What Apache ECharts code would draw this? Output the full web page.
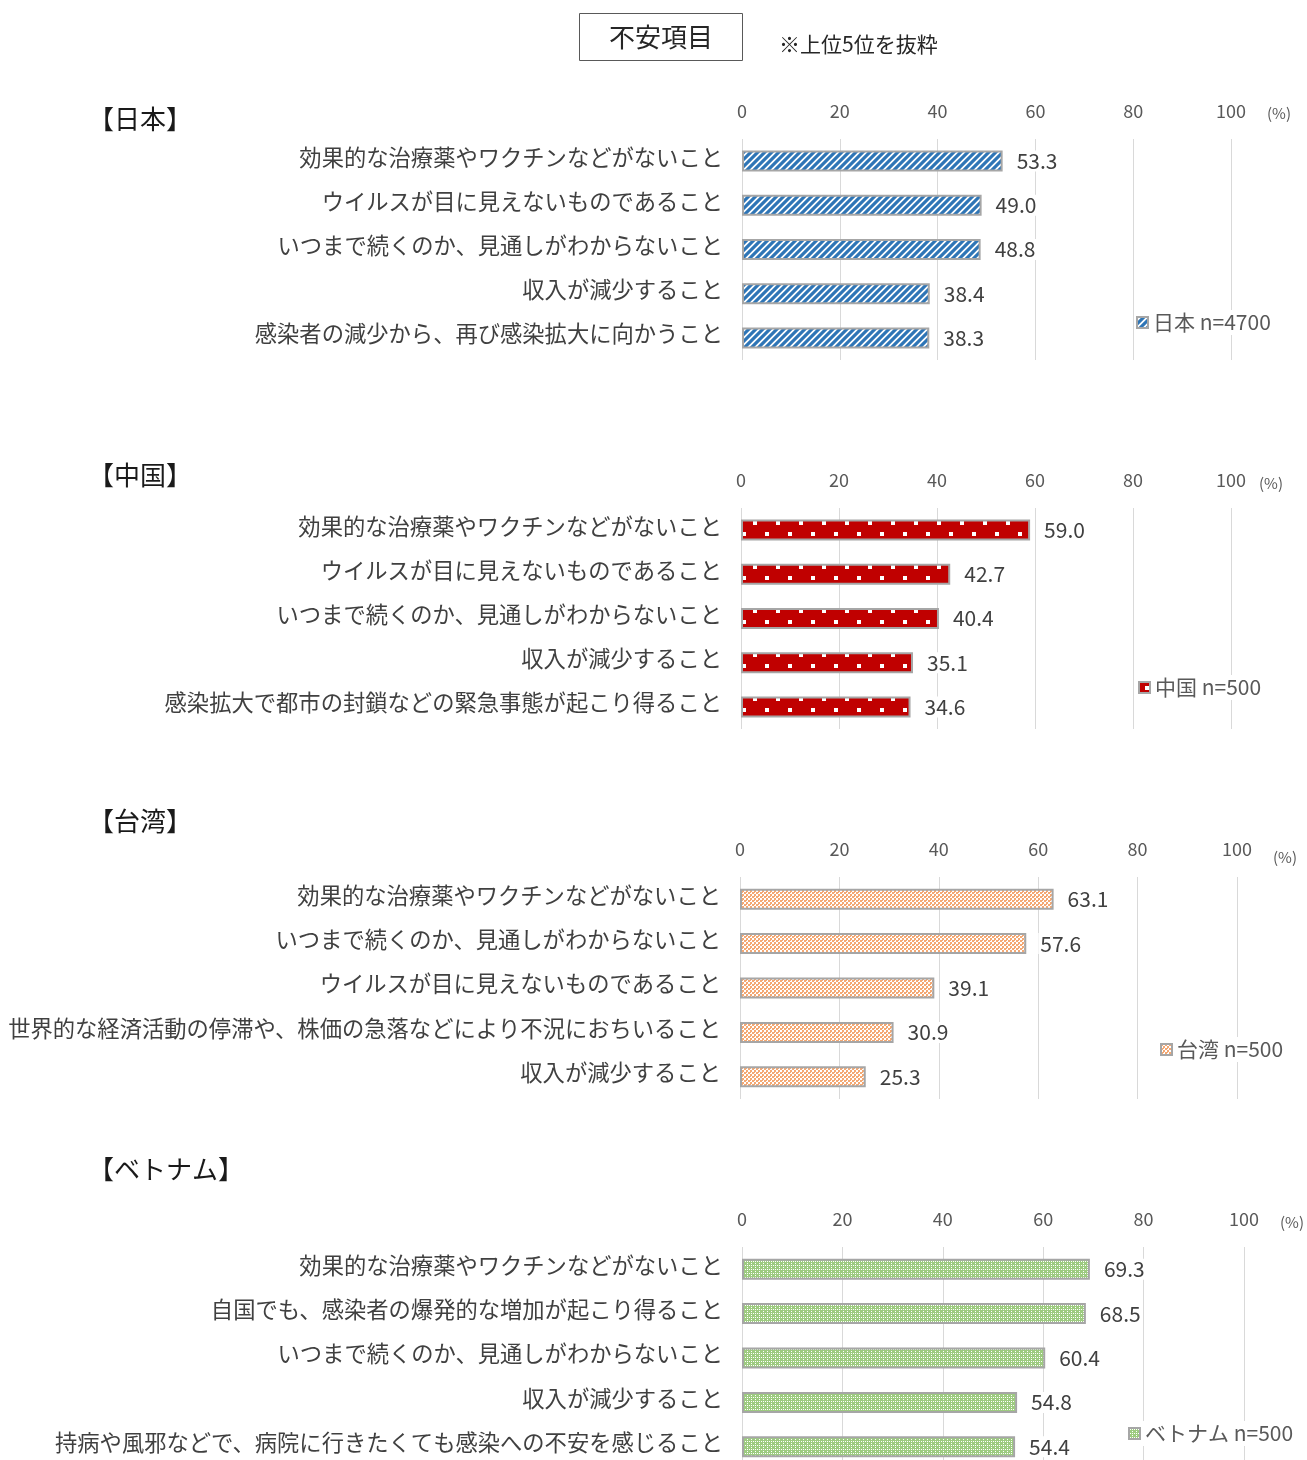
<!DOCTYPE html>
<html>
<head>
<meta charset="utf-8">
<script src="https://cdn.jsdelivr.net/npm/echarts@6/dist/echarts.min.js"></script>
<style>
  html, body { margin: 0; padding: 0; background: #fff; overflow: hidden; }
  /* the last panel runs slightly past the bottom of the window */
  #chart { width: 1307px; height: 1472px; }
</style>
</head>
<body>
<div id="chart"></div>
<script>
// Survey answers: share of respondents (%) worried about each item, top 5 per country
const regionTitles = ['【日本】', '【中国】', '【台湾】', '【ベトナム】'];
const seriesNames = ['日本 n=4700', '中国 n=500', '台湾 n=500', 'ベトナム n=500'];

const categoriesJapan = [
  '効果的な治療薬やワクチンなどがないこと',
  'ウイルスが目に見えないものであること',
  'いつまで続くのか、見通しがわからないこと',
  '収入が減少すること',
  '感染者の減少から、再び感染拡大に向かうこと'
];
const valuesJapan = [53.3, 49.0, 48.8, 38.4, 38.3];

const categoriesChina = [
  '効果的な治療薬やワクチンなどがないこと',
  'ウイルスが目に見えないものであること',
  'いつまで続くのか、見通しがわからないこと',
  '収入が減少すること',
  '感染拡大で都市の封鎖などの緊急事態が起こり得ること'
];
const valuesChina = [59.0, 42.7, 40.4, 35.1, 34.6];

const categoriesTaiwan = [
  '効果的な治療薬やワクチンなどがないこと',
  'いつまで続くのか、見通しがわからないこと',
  'ウイルスが目に見えないものであること',
  '世界的な経済活動の停滞や、株価の急落などにより不況におちいること',
  '収入が減少すること'
];
const valuesTaiwan = [63.1, 57.6, 39.1, 30.9, 25.3];

const categoriesVietnam = [
  '効果的な治療薬やワクチンなどがないこと',
  '自国でも、感染者の爆発的な増加が起こり得ること',
  'いつまで続くのか、見通しがわからないこと',
  '収入が減少すること',
  '持病や風邪などで、病院に行きたくても感染への不安を感じること'
];
const valuesVietnam = [69.3, 68.5, 60.4, 54.8, 54.4];

const allCategories = [categoriesJapan, categoriesChina, categoriesTaiwan, categoriesVietnam];
const allValues = [valuesJapan, valuesChina, valuesTaiwan, valuesVietnam];

// ---- fill patterns ----
function makeTile(w, h, draw) {
  const c = document.createElement('canvas');
  c.width = w; c.height = h;
  draw(c.getContext('2d'));
  return c;
}
const stripeTile = makeTile(7, 7, function (g) {
  g.fillStyle = '#fff'; g.fillRect(0, 0, 7, 7);
  g.strokeStyle = '#2E75B6'; g.lineWidth = 3.2;
  g.beginPath();
  g.moveTo(-1, 8); g.lineTo(8, -1);
  g.moveTo(-4.5, 4.5); g.lineTo(4.5, -4.5);
  g.moveTo(2.5, 11.5); g.lineTo(11.5, 2.5);
  g.stroke();
});
const dotTile = makeTile(23, 22, function (g) {
  g.fillStyle = '#C00000'; g.fillRect(0, 0, 23, 22);
  g.fillStyle = '#fff';
  g.fillRect(17, 15, 4, 4);
  g.fillRect(6, 4, 4, 4);
});
const checkOrangeTile = makeTile(4, 4, function (g) {
  g.fillStyle = '#fff'; g.fillRect(0, 0, 4, 4);
  g.fillStyle = '#F4A873';
  g.fillRect(0, 0, 2, 2);
  g.fillRect(2, 2, 2, 2);
  g.fillRect(2, 0, 1, 1);
});
const checkGreenTile = makeTile(4, 4, function (g) {
  g.fillStyle = '#9DCB80'; g.fillRect(0, 0, 4, 4);
  g.fillStyle = '#fff';
  g.fillRect(1, 1, 1, 1);
  g.fillRect(3, 3, 1, 1);
  g.fillRect(3, 1, 1, 1);
});
const fills = [stripeTile, dotTile, checkOrangeTile, checkGreenTile].map(function (t) {
  return { image: t, repeat: 'repeat' };
});

// ---- panel geometry ----
const panels = [
  { left: 742, width: 489, top: 139, height: 221, titleY: 119, pctX: 1279, pctY: 113, legendLeft: 1134, legendTop: 310 },
  { left: 741, width: 490, top: 508, height: 221, titleY: 475, pctX: 1271, pctY: 483, legendLeft: 1136, legendTop: 675 },
  { left: 740, width: 497, top: 877, height: 222, titleY: 821, pctX: 1285, pctY: 857, legendLeft: 1158, legendTop: 1037 },
  { left: 742, width: 502, top: 1247, height: 222, titleY: 1169, pctX: 1292, pctY: 1222, legendLeft: 1126, legendTop: 1421 }
];

const FONT = '"Noto Sans CJK JP", "Noto Sans", sans-serif';

const grids = [], xAxes = [], yAxes = [], series = [], legends = [], graphics = [];

panels.forEach(function (p, i) {
  grids.push({ left: p.left, top: p.top, width: p.width, height: p.height, containLabel: false });
  xAxes.push({
    type: 'value', gridIndex: i, position: 'top', min: 0, max: 100, interval: 20,
    axisLine: { show: false }, axisTick: { show: false },
    splitLine: { show: true, lineStyle: { color: '#D9D9D9', width: 1 } },
    axisLabel: { color: '#595959', fontSize: 18, fontFamily: FONT, margin: 19 }
  });
  yAxes.push({
    type: 'category', gridIndex: i, inverse: true, data: allCategories[i],
    axisLine: { show: false }, axisTick: { show: false }, splitLine: { show: false },
    axisLabel: {
      color: '#404040', fontSize: 22.3, fontFamily: FONT, margin: 19,
      // sit the text slightly above the bar centre
      verticalAlign: 'bottom', lineHeight: 8
    }
  });
  series.push({
    name: seriesNames[i], type: 'bar', xAxisIndex: i, yAxisIndex: i,
    data: allValues[i], barWidth: 21,
    itemStyle: { color: fills[i], borderColor: '#A6A6A6', borderWidth: 2 },
    label: {
      show: true, position: 'right', distance: 12,
      formatter: function (d) { return d.value.toFixed(1); },
      color: '#404040', fontSize: 21, fontFamily: FONT,
      backgroundColor: '#fff', padding: [0, 2]
    }
  });
  legends.push({
    data: [seriesNames[i]], left: p.legendLeft, top: p.legendTop,
    orient: 'vertical', icon: 'rect', itemWidth: 11, itemHeight: 11, itemGap: 6,
    backgroundColor: '#fff', padding: [2, 2],
    textStyle: { color: '#595959', fontSize: 21, fontFamily: FONT },
    selectedMode: false
  });
  graphics.push({
    type: 'text', x: 88, y: p.titleY,
    style: { text: regionTitles[i], fill: '#1a1a1a', fontSize: 26, fontFamily: FONT, textAlign: 'left', textVerticalAlign: 'middle' }
  });
  graphics.push({
    type: 'text', x: p.pctX, y: p.pctY,
    style: { text: '(%)', fill: '#595959', fontSize: 15, fontFamily: FONT, textAlign: 'center', textVerticalAlign: 'middle' }
  });
});

// heading box and note
graphics.push({
  type: 'rect', shape: { x: 579.5, y: 13.5, width: 163, height: 47 },
  style: { fill: '#fff', stroke: '#595959', lineWidth: 1 }
});
graphics.push({
  type: 'text', x: 661, y: 37,
  style: { text: '不安項目', fill: '#262626', fontSize: 26, fontFamily: FONT, textAlign: 'center', textVerticalAlign: 'middle' }
});
graphics.push({
  type: 'text', x: 779, y: 44,
  style: { text: '※上位5位を抜粋', fill: '#262626', fontSize: 21, fontFamily: FONT, textAlign: 'left', textVerticalAlign: 'middle' }
});

const chart = echarts.init(document.getElementById('chart'), null, { renderer: 'canvas' });
chart.setOption({
  animation: false,
  backgroundColor: '#fff',
  grid: grids,
  xAxis: xAxes,
  yAxis: yAxes,
  legend: legends,
  series: series,
  graphic: graphics
});
</script>
</body>
</html>
